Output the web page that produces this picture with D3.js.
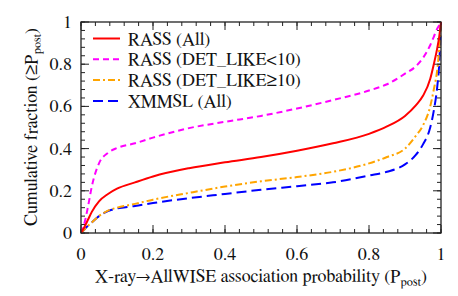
<!doctype html>
<html>
<head>
<meta charset="utf-8">
<title>Cumulative fraction</title>
<script src="https://cdn.jsdelivr.net/npm/d3@7"></script>
<style>
*{margin:0;padding:0;}
body{background:white;}
</style>
</head>
<body>
<script>
// P_post grid
var pGrid = [0, 0.01, 0.02, 0.03, 0.05, 0.075, 0.1, 0.15, 0.2, 0.3, 0.4, 0.5, 0.6, 0.7, 0.8, 0.85, 0.9, 0.93, 0.95, 0.97, 0.98, 0.99, 0.995, 1.0];
// curves
var rassAll   = [0, 0.03, 0.065, 0.1, 0.15, 0.185, 0.21, 0.24, 0.268, 0.307, 0.335, 0.36, 0.39, 0.425, 0.47, 0.505, 0.555, 0.605, 0.65, 0.73, 0.8, 0.88, 0.93, 1.0];
var rassLow   = [0, 0.05, 0.13, 0.22, 0.33, 0.38, 0.403, 0.425, 0.452, 0.497, 0.527, 0.555, 0.59, 0.63, 0.675, 0.705, 0.755, 0.79, 0.83, 0.89, 0.93, 0.97, 0.985, 1.0];
var rassHigh  = [0, 0.018, 0.035, 0.05, 0.08, 0.106, 0.12, 0.138, 0.158, 0.19, 0.22, 0.245, 0.265, 0.29, 0.33, 0.36, 0.4, 0.46, 0.51, 0.6, 0.68, 0.78, 0.87, 1.0];
var xmmslAll  = [0, 0.018, 0.035, 0.05, 0.08, 0.104, 0.116, 0.128, 0.142, 0.165, 0.185, 0.205, 0.222, 0.24, 0.272, 0.29, 0.325, 0.37, 0.42, 0.5, 0.58, 0.7, 0.8, 1.0];
var seriesNames = ["RASS (All)", "RASS (DET_LIKE<10)", "RASS (DET_LIKE\u226510)", "XMMSL (All)"];
var xTicks = [0, 0.2, 0.4, 0.6, 0.8, 1];
var yTicks = [0, 0.2, 0.4, 0.6, 0.8, 1];

var series = [
  {name: seriesNames[0], v: rassAll,  color: "#ff0000", dash: null, w: 2},
  {name: seriesNames[1], v: rassLow,  color: "#ff00ff", dash: "6,4", w: 2},
  {name: seriesNames[2], v: rassHigh, color: "#ffa500", dash: "7,3,2,3", w: 2},
  {name: seriesNames[3], v: xmmslAll, color: "#0000ff", dash: "10,5", w: 2}
];

var W = 458, H = 296;
var L = 81, R = 441, T = 22, B = 233;
var FONT = "'FreeSerif', 'Liberation Serif', serif";
var FS = 18;

var svg = d3.select("body").append("svg").attr("width", W).attr("height", H);

// every text gets its own font
function txt(sel){
  return sel.append("text").style("font-family", FONT).attr("font-size", FS).attr("fill", "#111");
}

var x = d3.scaleLinear().domain([0, 1]).range([L, R]);
var y = d3.scaleLinear().domain([0, 1]).range([B, T]);

// minor ticks every 0.04
var minor = d3.range(0, 1.0001, 0.04);
var fmt = function(d){ return d === 0 || d === 1 ? d3.format("d")(d) : d3.format(".1f")(d); };

function ticks(len, vals){
  var g = svg.append("g").attr("stroke", "#222").attr("stroke-width", 1);
  vals.forEach(function(v){
    var px = x(v), py = y(v);
    g.append("line").attr("x1", px).attr("x2", px).attr("y1", B).attr("y2", B - len);
    g.append("line").attr("x1", px).attr("x2", px).attr("y1", T).attr("y2", T + len);
    g.append("line").attr("y1", py).attr("y2", py).attr("x1", L).attr("x2", L + len);
    g.append("line").attr("y1", py).attr("y2", py).attr("x1", R).attr("x2", R - len);
  });
}
ticks(4, minor);
ticks(8, xTicks);

// curves
var line = d3.line()
  .x(function(d){ return x(d[0]); })
  .y(function(d){ return y(d[1]); })
  .curve(d3.curveMonotoneX);

svg.append("defs").append("clipPath").attr("id", "clip")
  .append("rect").attr("x", L).attr("y", T - 1).attr("width", R - L + 1).attr("height", B - T + 1);

var cg = svg.append("g").attr("clip-path", "url(#clip)");
series.slice().reverse().forEach(function(s){
  cg.append("path")
    .attr("d", line(pGrid.map(function(p, i){ return [p, s.v[i]]; })))
    .attr("fill", "none")
    .attr("stroke", s.color)
    .attr("stroke-width", s.w)
    .attr("stroke-dasharray", s.dash);
});

// frame
svg.append("rect").attr("x", L).attr("y", T).attr("width", R - L).attr("height", B - T)
  .attr("fill", "none").attr("stroke", "#222").attr("stroke-width", 1.3);

// tick labels
xTicks.forEach(function(d){
  txt(svg).attr("x", x(d)).attr("y", 260).attr("text-anchor", "middle").text(fmt(d));
});
yTicks.forEach(function(d){
  txt(svg).attr("x", 72).attr("y", y(d) + 6).attr("text-anchor", "end").text(fmt(d));
});

// axis titles
var xt = txt(svg).attr("x", 261).attr("y", 282).attr("text-anchor", "middle");
xt.append("tspan").text("X-ray\u2192AllWISE association probability (P");
xt.append("tspan").attr("font-size", 12.5).attr("dy", 4).text("post");
xt.append("tspan").attr("dy", -4).text(")");

var yt = txt(svg).attr("transform", "translate(37,127) rotate(-90)").attr("text-anchor", "middle");
yt.append("tspan").text("Cumulative fraction (\u2265P");
yt.append("tspan").attr("font-size", 12.5).attr("dy", 4).text("post");
yt.append("tspan").attr("dy", -4).text(")");

// legend
series.forEach(function(s, i){
  var ly = 38.5 + i * 20.8;
  svg.append("line").attr("x1", 93).attr("x2", 120).attr("y1", ly).attr("y2", ly)
    .attr("stroke", s.color).attr("stroke-width", s.w).attr("stroke-dasharray", s.dash);
  txt(svg).attr("x", 128).attr("y", ly + 6).text(s.name);
});
</script>
</body>
</html>
